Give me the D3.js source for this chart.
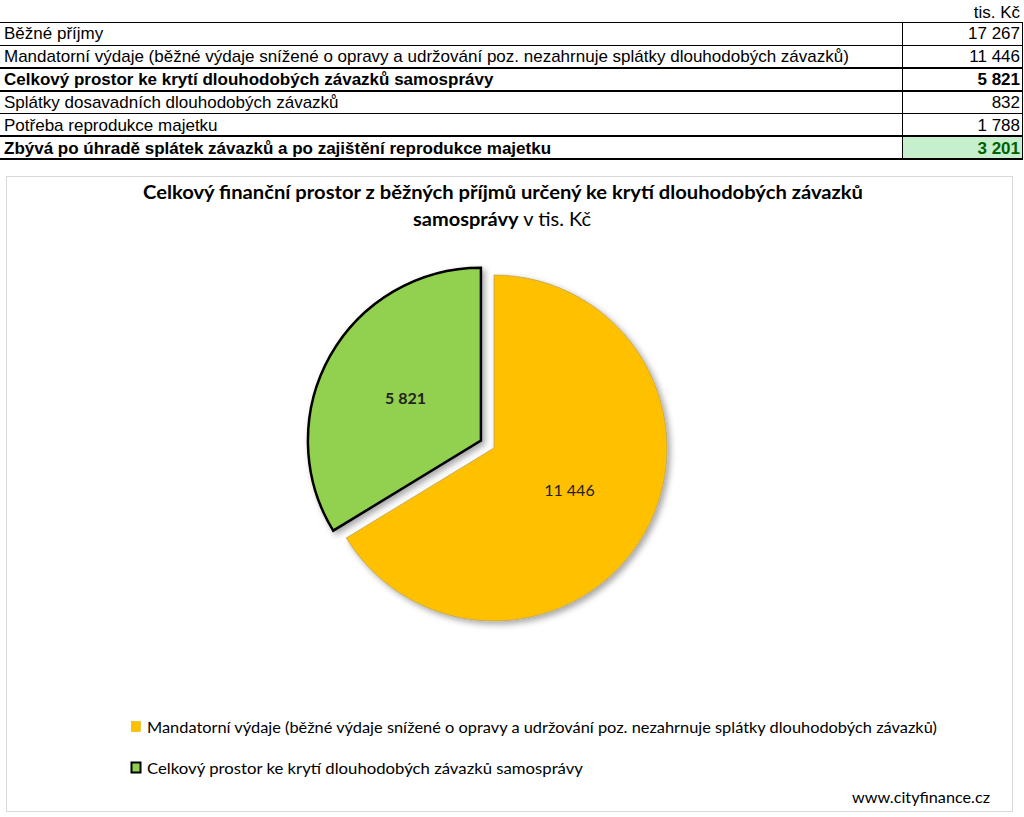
<!DOCTYPE html>
<html>
<head>
<meta charset="utf-8">
<script src="https://cdn.jsdelivr.net/npm/d3@7"></script>
<style>
  body { margin: 0; background: #fff; }
  svg { display: block; }
</style>
</head>
<body>
<div id="chart"></div>
<script>
(function() {
    var width = 1024,
        height = 817;

    // table data
    var rowLabels = [
        "Běžné příjmy",
        "Mandatorní výdaje (běžné výdaje snížené o opravy a udržování poz. nezahrnuje splátky dlouhodobých závazků)",
        "Celkový prostor ke krytí dlouhodobých závazků samosprávy",
        "Splátky dosavadních dlouhodobých závazků",
        "Potřeba reprodukce majetku",
        "Zbývá po úhradě splátek závazků a po zajištění reprodukce majetku"
    ];
    var rowValues = [17267, 11446, 5821, 832, 1788, 3201];
    var rowBold = [false, false, true, false, false, true];

    // pie data
    var pieLabels = [
        "Mandatorní výdaje (běžné výdaje snížené o opravy a udržování poz. nezahrnuje splátky dlouhodobých závazků)",
        "Celkový prostor ke krytí dlouhodobých závazků samosprávy"
    ];
    var pieValues = [11446, 5821];
    var pieColors = ["#FFC000", "#92D050"];

    var cz = d3.formatLocale({ decimal: ",", thousands: " ", grouping: [3], currency: ["", " Kč"] });
    var fmt = cz.format(",d");

    var svg = d3.select("#chart")
        .append("svg")
        .attr("width", width)
        .attr("height", height);

    var defs = svg.append("defs");
    defs.append("filter")
        .attr("id", "shadow")
        .attr("x", "-20%").attr("y", "-20%").attr("width", "140%").attr("height", "140%")
        .append("feDropShadow")
        .attr("dx", 3).attr("dy", 3)
        .attr("stdDeviation", 3)
        .attr("flood-color", "#000")
        .attr("flood-opacity", 0.35);

    // ---- table ----
    var table = svg.append("g").attr("font-family", "'Liberation Sans', Arial, sans-serif");

    var y = d3.scaleBand()
        .domain(d3.range(rowLabels.length))
        .range([22, 159]);

    table.append("text")
        .attr("x", 1020).attr("y", 18)
        .attr("text-anchor", "end")
        .attr("font-size", 17)
        .text("tis. Kč");

    var rows = table.selectAll(".row")
        .data(rowLabels)
        .enter().append("g")
        .attr("class", "row")
        .attr("transform", function(d, i) { return "translate(0," + y(i) + ")"; });

    rows.filter(function(d, i) { return i === 5; })
        .append("rect")
        .attr("x", 902).attr("y", 0)
        .attr("width", 120).attr("height", y.bandwidth())
        .attr("fill", "#C6EFCE");

    rows.append("text")
        .attr("x", 4)
        .attr("y", y.bandwidth() / 2 + 6)
        .attr("font-size", 17)
        .attr("font-weight", function(d, i) { return rowBold[i] ? "bold" : "normal"; })
        .text(function(d) { return d; });

    rows.append("text")
        .attr("x", 1020)
        .attr("y", y.bandwidth() / 2 + 6)
        .attr("text-anchor", "end")
        .attr("font-size", 17)
        .attr("font-weight", function(d, i) { return rowBold[i] ? "bold" : "normal"; })
        .attr("fill", function(d, i) { return i === 5 ? "#006100" : "#000"; })
        .text(function(d, i) { return fmt(rowValues[i]); });

    // horizontal borders
    var borders = d3.range(rowLabels.length + 1).map(function(i) {
        var yy = i < rowLabels.length ? y(i) : 159;
        var thick = (i > 0 && rowBold[i - 1]) || (i < rowLabels.length && rowBold[i]);
        return { y: yy, w: thick ? 2 : 1 };
    });
    table.selectAll(".hb")
        .data(borders)
        .enter().append("line")
        .attr("class", "hb")
        .attr("x1", 0).attr("x2", 1023)
        .attr("y1", function(d) { return d.w === 1 ? Math.round(d.y) + 0.5 : Math.round(d.y); })
        .attr("y2", function(d) { return d.w === 1 ? Math.round(d.y) + 0.5 : Math.round(d.y); })
        .attr("stroke", "#000")
        .attr("stroke-width", function(d) { return d.w; });

    table.selectAll(".vb")
        .data([902.5, 1022.5])
        .enter().append("line")
        .attr("class", "vb")
        .attr("x1", function(d) { return d; }).attr("x2", function(d) { return d; })
        .attr("y1", 22).attr("y2", 159)
        .attr("stroke", "#000")
        .attr("stroke-width", 1);

    // ---- chart ----
    var chart = svg.append("g").attr("font-family", "Lato, 'Open Sans', sans-serif");

    chart.append("rect")
        .attr("x", 6.5).attr("y", 176.5)
        .attr("width", 1006).attr("height", 635)
        .attr("fill", "#fff")
        .attr("stroke", "#D9D9D9");

    chart.append("text")
        .attr("x", 503).attr("y", 199)
        .attr("text-anchor", "middle")
        .attr("font-size", 19)
        .attr("font-weight", "bold")
        .attr("textLength", 720)
        .attr("lengthAdjust", "spacingAndGlyphs")
        .text("Celkový finanční prostor z běžných příjmů určený ke krytí dlouhodobých závazků");

    var t2 = chart.append("text")
        .attr("x", 502).attr("y", 226)
        .attr("text-anchor", "middle")
        .attr("font-size", 19)
        .attr("textLength", 178)
        .attr("lengthAdjust", "spacingAndGlyphs");
    t2.append("tspan").attr("font-weight", "bold").text("samosprávy");
    t2.append("tspan").text(" v tis. Kč");

    var cx = 494, cy = 448, r = 173;

    var pie = d3.pie().sort(null).value(function(d) { return d; });
    var arcs = pie(pieValues);
    var arc = d3.arc().innerRadius(0).outerRadius(r);
    var explode = 15;

    var slices = chart.append("g")
        .attr("transform", "translate(" + cx + "," + cy + ")")
        .selectAll(".slice")
        .data(arcs)
        .enter().append("g")
        .attr("class", "slice")
        .attr("transform", function(d, i) {
            if (i !== 1) return null;
            var a = (d.startAngle + d.endAngle) / 2;
            return "translate(" + (Math.sin(a) * explode) + "," + (-Math.cos(a) * explode) + ")";
        });

    slices.append("path")
        .attr("d", arc)
        .attr("fill", function(d, i) { return pieColors[i]; })
        .attr("stroke", function(d, i) { return i === 1 ? "#000" : "#B8A060"; })
        .attr("stroke-width", function(d, i) { return i === 1 ? 2.5 : 0.75; })
        .attr("stroke-linejoin", "miter")
        .attr("filter", "url(#shadow)");

    var labelArc = d3.arc().innerRadius(r * 0.5).outerRadius(r * 0.5);
    slices.append("text")
        .attr("transform", function(d) { return "translate(" + labelArc.centroid(d) + ")"; })
        .attr("text-anchor", "middle")
        .attr("dy", 6)
        .attr("font-size", 16)
        .attr("font-weight", function(d, i) { return i === 1 ? "bold" : "normal"; })
        .attr("fill", "#222")
        .text(function(d) { return fmt(d.value); });

    // legend
    var legend = chart.selectAll(".legend")
        .data(pieLabels)
        .enter().append("g")
        .attr("class", "legend")
        .attr("transform", function(d, i) { return "translate(131," + (727 + i * 41) + ")"; });

    legend.append("rect")
        .attr("x", 0.5).attr("y", -5.5)
        .attr("width", 9).attr("height", 10)
        .attr("fill", function(d, i) { return pieColors[i]; })
        .attr("stroke", function(d, i) { return i === 1 ? "#000" : "#D9A800"; })
        .attr("stroke-width", function(d, i) { return i === 1 ? 2 : 0.5; });

    legend.append("text")
        .attr("x", 16).attr("y", 5.5)
        .attr("font-size", 16)
        .attr("textLength", function(d, i) { return i === 0 ? 790 : 436; })
        .attr("lengthAdjust", "spacingAndGlyphs")
        .text(function(d) { return d; });

    chart.append("text")
        .attr("x", 990).attr("y", 803)
        .attr("text-anchor", "end")
        .attr("font-size", 16)
        .attr("textLength", 138)
        .attr("lengthAdjust", "spacingAndGlyphs")
        .text("www.cityfinance.cz");
})();
</script>
</body>
</html>
